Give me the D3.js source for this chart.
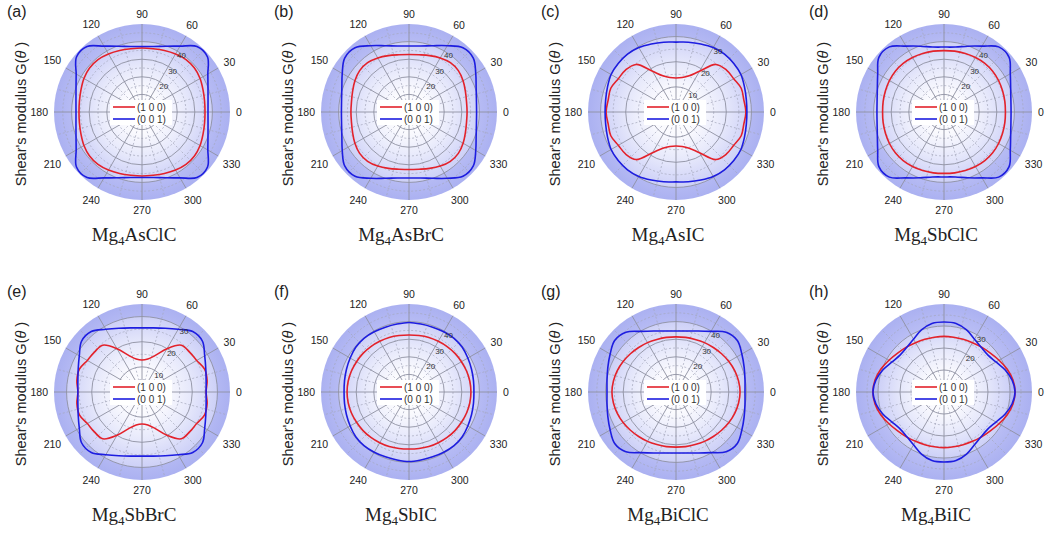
<!DOCTYPE html>
<html>
<head>
<meta charset="utf-8">
<script src="https://cdn.jsdelivr.net/npm/d3@7"></script>
<style>
  body { margin: 0; background: #ffffff; }
  svg text { font-family: "Liberation Sans", Arial, sans-serif; }
</style>
</head>
<body>
<svg id="fig" width="1053" height="535"></svg>
<script>
// ---- data -------------------------------------------------------------
const angles = [0, 10, 20, 30, 40, 50, 60, 70, 80, 90, 100, 110, 120, 130, 140, 150, 160, 170,
                180, 190, 200, 210, 220, 230, 240, 250, 260, 270, 280, 290, 300, 310, 320, 330, 340, 350];
const angleTicks = [0, 30, 60, 90, 120, 150, 180, 210, 240, 270, 300, 330];
const panelLetters = ["(a)", "(b)", "(c)", "(d)", "(e)", "(f)", "(g)", "(h)"];
const compoundMain = ["Mg", "Mg", "Mg", "Mg", "Mg", "Mg", "Mg", "Mg"];
const compoundSub = ["4", "4", "4", "4", "4", "4", "4", "4"];
const compoundRest = ["AsClC", "AsBrC", "AsIC", "SbClC", "SbBrC", "SbIC", "BiClC", "BiIC"];
const seriesNames = ["(1 0 0)", "(0 0 1)"];
const radialMax = [50, 50, 35, 50, 35, 50, 50, 40];
const radialTicks = [[20, 30, 40], [20, 30, 40], [10, 20, 30], [20, 30, 40],
                     [10, 20, 30], [20, 30, 40], [20, 30, 40], [20, 30]];

// G(theta), GPa, one value per entry of `angles`
const asClC_100 = [35.8,36.1,36.9,38.1,38.9,38.9,38.1,37.2,36.5,36.4,36.5,37.2,38.1,38.9,38.9,38.1,36.9,36.1,
                   35.8,36.1,36.9,38.1,38.9,38.9,38.1,37.2,36.5,36.4,36.5,37.2,38.1,38.9,38.9,38.1,36.9,36.1];
const asClC_001 = [37.5,38.1,39.9,43.2,48.6,48.6,43.2,39.8,37.8,37.2,37.8,39.8,43.2,48.6,48.6,43.2,39.9,38.1,
                   37.5,38.1,39.9,43.2,48.6,48.6,43.2,39.8,37.8,37.2,37.8,39.8,43.2,48.6,48.6,43.2,39.9,38.1];
const asBrC_100 = [33.0,33.2,34.1,35.5,36.6,36.6,35.5,34.1,33.0,32.7,33.0,34.1,35.5,36.6,36.6,35.5,34.1,33.2,
                   33.0,33.2,34.1,35.5,36.6,36.6,35.5,34.1,33.0,32.7,33.0,34.1,35.5,36.6,36.6,35.5,34.1,33.2];
const asBrC_001 = [38.4,38.9,40.6,43.8,47.7,47.7,43.5,40.1,38.1,37.5,38.1,40.1,43.5,47.7,47.7,43.8,40.6,38.9,
                   38.4,38.9,40.6,43.8,47.7,47.7,43.5,40.1,38.1,37.5,38.1,40.1,43.5,47.7,47.7,43.8,40.6,38.9];
const asIC_100  = [27.8,27.4,27.6,26.5,26.1,24.7,18.7,15.3,13.9,13.5,13.9,15.3,18.7,24.7,26.1,26.5,27.6,27.4,
                   27.8,27.4,27.6,26.5,26.1,24.7,18.7,15.3,13.9,13.5,13.9,15.3,18.7,24.7,26.1,26.5,27.6,27.4];
const asIC_001  = [28.2,28.4,29.0,29.8,30.0,30.0,29.6,28.8,28.2,27.8,28.2,28.8,29.6,30.0,30.0,29.8,29.0,28.4,
                   28.2,28.4,29.0,29.8,30.0,30.0,29.6,28.8,28.2,27.8,28.2,28.8,29.6,30.0,30.0,29.8,29.0,28.4];
const sbClC_100 = [34.9,35.1,35.4,35.8,36.1,36.1,35.8,35.4,35.1,34.9,35.1,35.4,35.8,36.1,36.1,35.8,35.4,35.1,
                   34.9,35.1,35.4,35.8,36.1,36.1,35.8,35.4,35.1,34.9,35.1,35.4,35.8,36.1,36.1,35.8,35.4,35.1];
const sbClC_001 = [38.1,38.6,40.3,43.5,48.3,48.3,43.2,39.8,37.5,36.9,37.5,39.8,43.2,48.3,48.3,43.5,40.3,38.6,
                   38.1,38.6,40.3,43.5,48.3,48.3,43.2,39.8,37.5,36.9,37.5,39.8,43.2,48.3,48.3,43.5,40.3,38.6];
const sbBrC_100 = [25.5,26.3,26.5,25.1,24.7,24.3,19.9,15.5,13.3,12.7,13.3,15.5,19.9,24.3,24.7,25.1,26.5,26.3,
                   25.5,26.3,26.5,25.1,24.7,24.3,19.9,15.5,13.3,12.7,13.3,15.5,19.9,24.3,24.7,25.1,26.5,26.3];
const sbBrC_001 = [25.5,25.9,27.0,28.8,31.4,31.4,28.8,27.0,25.9,25.5,25.9,27.0,28.8,31.4,31.4,28.8,27.0,25.9,
                   25.5,25.9,27.0,28.8,31.4,31.4,28.8,27.0,25.9,25.5,25.9,27.0,28.8,31.4,31.4,28.8,27.0,25.9];
const sbIC_100  = [35.2,35.1,34.8,34.4,34.1,33.7,33.3,33.0,32.6,32.4,32.6,33.0,33.3,33.7,34.1,34.4,34.8,35.1,
                   35.2,35.1,34.8,34.4,34.1,33.7,33.3,33.0,32.6,32.4,32.6,33.0,33.3,33.7,34.1,34.4,34.8,35.1];
const sbIC_001  = [36.9,37.2,37.8,38.6,39.5,39.8,39.5,39.2,39.2,39.5,39.2,39.2,39.5,39.8,39.5,38.6,37.8,37.2,
                   36.9,37.2,37.8,38.6,39.5,39.8,39.5,39.2,39.2,39.5,39.2,39.2,39.5,39.8,39.5,38.6,37.8,37.2];
const biClC_100 = [36.4,36.1,35.5,34.7,33.8,33.0,32.4,31.8,31.5,31.3,31.5,31.8,32.4,33.0,33.8,34.7,35.5,36.1,
                   36.4,36.1,35.5,34.7,33.8,33.0,32.4,31.8,31.5,31.3,31.5,31.8,32.4,33.0,33.8,34.7,35.5,36.1];
const biClC_001 = [39.2,39.8,41.2,43.2,45.5,44.3,39.8,36.9,35.2,34.7,35.2,36.9,39.8,44.3,45.5,43.2,41.2,39.8,
                   39.2,39.8,41.2,43.2,45.5,44.3,39.8,36.9,35.2,34.7,35.2,36.9,39.8,44.3,45.5,43.2,41.2,39.8];
const biIC_100  = [32.3,31.8,30.5,28.9,27.5,26.6,25.9,25.5,25.3,25.3,25.3,25.5,25.9,26.6,27.5,28.9,30.5,31.8,
                   32.3,31.8,30.5,28.9,27.5,26.6,25.9,25.5,25.3,25.3,25.3,25.5,25.9,26.6,27.5,28.9,30.5,31.8];
const biIC_001  = [32.3,31.4,29.5,27.3,26.1,26.4,27.7,30.0,31.6,31.8,31.6,30.0,27.7,26.4,26.1,27.3,29.5,31.4,
                   32.3,31.4,29.5,27.3,26.1,26.4,27.7,30.0,31.6,31.8,31.6,30.0,27.7,26.4,26.1,27.3,29.5,31.4];

const panelSeries = [
  [asClC_100, asClC_001], [asBrC_100, asBrC_001], [asIC_100, asIC_001], [sbClC_100, sbClC_001],
  [sbBrC_100, sbBrC_001], [sbIC_100, sbIC_001], [biClC_100, biClC_001], [biIC_100, biIC_001]
];

// ---- layout -----------------------------------------------------------
const R = 88;
const colX = [142, 409, 676, 944];
const rowY = [112, 392];
const seriesColors = ["#e3222b", "#1d1de0"];
const gridDark = "#8f91a2", gridLight = "#a3a6ba";
const toRad = d => d * Math.PI / 180;

const svg = d3.select("#fig");
svg.append("rect").attr("width", 1053).attr("height", 535).attr("fill", "#ffffff");

const defs = svg.append("defs");
// outer ring and inner disc fills
const ringGrad = defs.append("radialGradient").attr("id", "ring").attr("r", "50%");
[[0.7, "#bcc0f5"], [1, "#abb1f1"]]
  .forEach(([o, c]) => ringGrad.append("stop").attr("offset", o).attr("stop-color", c));
const discGrad = defs.append("radialGradient").attr("id", "disc").attr("r", "50%");
[[0, "#ffffff"], [0.3, "#fafafe"], [0.65, "#e6e8fb"], [1, "#cdd0f7"]]
  .forEach(([o, c]) => discGrad.append("stop").attr("offset", o).attr("stop-color", c));

panelSeries.forEach((series, i) => {
  const cx = colX[i % 4], cy = rowY[Math.floor(i / 4)];
  const g = svg.append("g").attr("transform", `translate(${cx},${cy})`);
  const r = d3.scaleLinear().domain([0, radialMax[i]]).range([0, R]);
  const major = d3.range(10, radialMax[i], 10);
  const minor = d3.range(5, radialMax[i], 10);
  const lastMajor = major[major.length - 1];

  g.append("circle").attr("r", R).attr("fill", "url(#ring)");
  g.append("circle").attr("r", r(lastMajor)).attr("fill", "url(#disc)");

  // grid circles
  g.selectAll(".minor").data(minor).join("circle")
    .attr("r", d => r(d)).attr("fill", "none")
    .attr("stroke", gridLight).attr("stroke-width", 0.7).attr("stroke-dasharray", "2,2");
  g.selectAll(".major").data(major).join("circle")
    .attr("r", d => r(d)).attr("fill", "none")
    .attr("stroke", gridDark).attr("stroke-width", 0.9);

  // spokes
  const spokes = d3.range(0, 360, 15);
  g.selectAll(".spoke").data(spokes).join("line")
    .attr("x1", 0).attr("y1", 0)
    .attr("x2", d => R * Math.cos(toRad(d))).attr("y2", d => -R * Math.sin(toRad(d)))
    .attr("stroke", d => d % 30 === 0 ? gridDark : gridLight)
    .attr("stroke-width", d => d % 30 === 0 ? 0.9 : 0.7)
    .attr("stroke-dasharray", d => d % 30 === 0 ? null : "2,2");

  // curves
  const line = d3.lineRadial()
    .angle(d => toRad(90 - d[0]))
    .radius(d => r(d[1]))
    .curve(d3.curveCatmullRomClosed);
  series.forEach((vals, s) => {
    g.append("path")
      .attr("d", line(angles.map((a, k) => [a, vals[k]])))
      .attr("fill", "none").attr("stroke", seriesColors[s]).attr("stroke-width", 1.6);
  });

  // radial tick labels beside the 60 degree spoke
  g.selectAll(".rlab").data(radialTicks[i]).join("text")
    .attr("x", d => r(d) * Math.cos(toRad(60)) + 4.2)
    .attr("y", d => -r(d) * Math.sin(toRad(60)) + 4.9)
    .attr("text-anchor", "middle").attr("dominant-baseline", "central")
    .attr("font-size", 8).attr("fill", "#333")
    .text(d => d);

  // legend
  g.append("rect").attr("x", -32).attr("y", -12).attr("width", 62).attr("height", 25).attr("fill", "#ffffff");
  seriesNames.forEach((name, s) => {
    const y = s === 0 ? -5 : 7;
    g.append("line").attr("x1", -29).attr("x2", -7).attr("y1", y).attr("y2", y)
      .attr("stroke", seriesColors[s]).attr("stroke-width", 1.6);
    g.append("text").attr("x", -5).attr("y", y).attr("dominant-baseline", "central")
      .attr("font-size", 10).attr("fill", "#333").text(name);
  });

  // angle labels
  const fs = 10.5;
  g.selectAll(".alab").data(angleTicks).join("text")
    .attr("text-anchor", "middle").attr("dominant-baseline", "central")
    .attr("font-size", fs).attr("fill", "#222")
    .each(function (d) {
      const w = String(d).length * 0.556 * fs, h = 0.72 * fs;
      const t = toRad(d);
      const rr = 94 + Math.abs(Math.cos(t)) * w / 2 + Math.abs(Math.sin(t)) * h / 2;
      d3.select(this).attr("x", rr * Math.cos(t)).attr("y", -rr * Math.sin(t));
    })
    .text(d => d);

  // y axis title
  const yt = g.append("text").attr("transform", `translate(-121,2) rotate(-90)`)
    .attr("text-anchor", "middle").attr("dominant-baseline", "central")
    .attr("font-size", 14.5).attr("fill", "#222");
  yt.append("tspan").text("Shear's modulus G(");
  yt.append("tspan").attr("font-style", "italic").text("θ");
  yt.append("tspan").text(" )");

  // panel letter
  g.append("text").attr("x", -135).attr("y", -95).attr("font-size", 16).attr("fill", "#222")
    .text(panelLetters[i]);

  // compound name
  const tt = g.append("text").attr("x", -8).attr("y", 129).attr("text-anchor", "middle")
    .attr("font-size", 19).attr("fill", "#222")
    .style("font-family", "'Liberation Serif', 'Times New Roman', serif");
  tt.append("tspan").text(compoundMain[i]);
  tt.append("tspan").attr("font-size", 13).attr("dy", 4).text(compoundSub[i]);
  tt.append("tspan").attr("dy", -4).text(compoundRest[i]);
});
</script>
</body>
</html>
